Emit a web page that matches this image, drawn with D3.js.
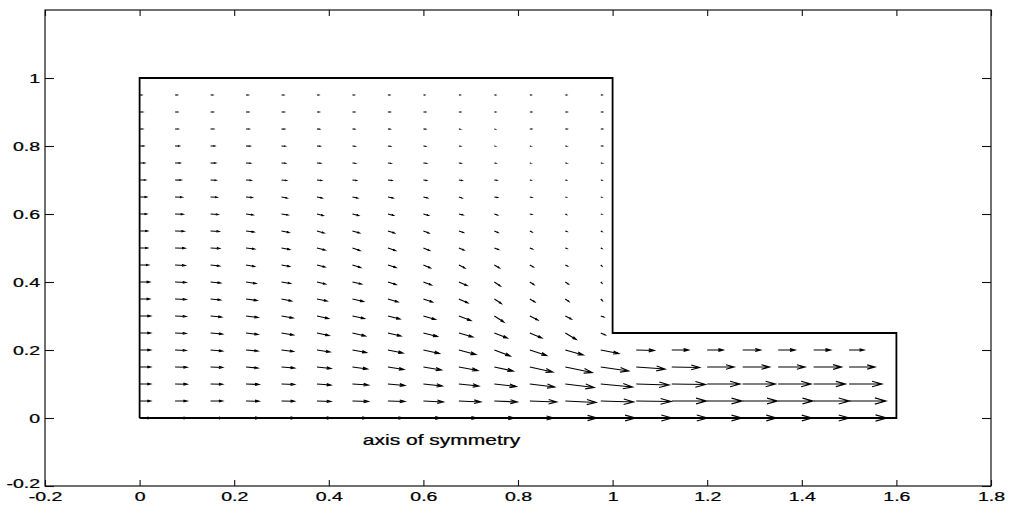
<!DOCTYPE html>
<html>
<head>
<meta charset="utf-8">
<style>
  body { margin: 0; background: #fff; }
  svg { display: block; }
  text { font-family: "Liberation Sans", Arial, Helvetica, sans-serif; fill: #000; stroke: #000; stroke-width: 0.25; }
</style>
</head>
<body>
<svg id="chart" width="1014" height="505"></svg>
<script src="https://cdnjs.cloudflare.com/ajax/libs/d3/7.8.5/d3.min.js"></script>
<script>
// grid of the quiver plot (columns in x, rows in y)
const xGrid = [0, 0.075, 0.15, 0.225, 0.3, 0.375, 0.45, 0.525, 0.6, 0.675, 0.75,
               0.825, 0.9, 0.975, 1.05, 1.125, 1.2, 1.275, 1.35, 1.425, 1.5];
const yGrid = [0, 0.05, 0.1, 0.15, 0.2, 0.25, 0.3, 0.35, 0.4, 0.45,
               0.5, 0.55, 0.6, 0.65, 0.7, 0.75, 0.8, 0.85, 0.9, 0.95];

// velocity components, one row per yGrid value (bottom row first)
const U = [
  [11, 12, 12, 13, 13, 14, 14, 15, 17, 18, 20, 24, 32, 35, 36, 36, 35, 34, 34, 36, 38],
  [11, 12, 12, 13, 13, 14, 16, 17, 20, 22, 23, 27, 31, 33, 35, 35, 35, 35, 35, 36, 37],
  [11, 12, 12, 13, 13, 14, 16, 17, 19, 20, 22, 25, 29, 32, 33, 34, 33, 33, 33, 32, 33],
  [11, 12, 12, 12, 13, 14, 15, 16, 18, 19, 19, 23, 27, 28, 29, 28, 27, 27, 27, 28, 26],
  [11, 11, 12, 12, 12, 13, 14, 15, 16, 17, 16, 17, 18, 18, 18, 17, 16, 18, 17, 17, 15],
  [11, 11, 12, 12, 12, 12, 13, 13, 14, 14, 13, 12, 11, 4.5],
  [11, 11, 11, 12, 11.5, 11.5, 12, 12, 12, 12, 9.5, 8, 6, 3],
  [10, 11, 10, 11, 10, 10, 11, 10, 9, 9, 7, 5, 3.5, 1.5],
  [10, 11, 10, 10, 9, 8.5, 9, 8, 8, 8, 6, 4, 3, 1],
  [9, 10, 9, 8.5, 8, 8, 8, 8, 7, 6, 5, 3.5, 2, 1],
  [8, 10, 9, 8.5, 8, 8, 7.5, 7.5, 6, 5, 4, 2.5, 1.5, 1],
  [8, 9, 8.5, 8, 7.5, 7, 7, 6.5, 5.5, 4.5, 3.5, 2, 1.5, 1],
  [7, 8, 7.5, 7, 6.5, 6, 6, 5.5, 5, 4, 3, 2, 1, 1],
  [7, 7, 6.5, 6, 5.5, 5, 5, 5, 4, 3, 3, 2, 1, 1],
  [6, 6, 5.5, 5, 5, 4.5, 4, 4, 3, 3, 2.5, 1, 1, 1],
  [5, 5, 5, 4.5, 4, 3.5, 3, 3, 3, 2, 1.5, 1, 1.5, 1.5],
  [4, 4, 4, 4, 3.5, 3, 2.5, 2.5, 2, 1.5, 1, 1, 1.5, 1.5],
  [3, 3, 3, 3, 3, 2.5, 2, 2, 2, 1.5, 1, 1.5, 1.5, 1.5],
  [3, 2.5, 2.5, 2.5, 2.5, 2, 2, 2, 2, 1.5, 1, 1.5, 1.5, 1.5],
  [2, 2, 2, 2, 2, 1.5, 1.5, 1.5, 1, 1, 1, 1, 1, 1]
];
const V = [
  [0, 0, 0, 0, 0, 0, 0, 0, 0, 0, 0, 0, 0, 0, 0, 0, 0, 0, 0, 0, 0],
  [0, 0, 0, -0.4, -0.4, -0.7, -0.7, -0.7, -1.4, -1.4, -1.4, -1.4, -2.1, -1.4, -0.7, 0, 0, 0, 0, 0, 0],
  [0, -0.3, -0.4, -0.7, -0.7, -1.4, -1.4, -2.1, -2.8, -2.8, -3.5, -4.2, -4.9, -4.2, -1.4, -0.7, 0, 0, 0, 0, 0],
  [0, -0.4, -0.7, -1.4, -1.4, -2.1, -2.8, -3.5, -4.2, -4.9, -5.6, -7, -7.7, -5.6, -2.8, -0.7, 0, 0, 0, 0, 0],
  [0, -0.7, -1.4, -1.4, -2.1, -2.8, -3.5, -4.2, -4.9, -6.3, -8.4, -7.7, -7, -4.9, -0.7, 0, 0, 0, 0, 0, 0],
  [0, -0.7, -1.4, -2.1, -2.8, -3.5, -4.2, -4.2, -4.9, -5.6, -7, -7, -9.1, -2.8],
  [0, -0.7, -1.4, -2.1, -2.8, -3.5, -3.5, -4.2, -4.9, -6.3, -8.4, -5.6, -4.2, -1.4],
  [0, -0.7, -1.4, -2.1, -2.8, -2.8, -3.5, -4.2, -4.2, -5.6, -6.3, -4.2, -3.5, -2.1],
  [0, -0.7, -1.4, -2.1, -2.1, -2.8, -2.8, -3.5, -4.2, -4.9, -5.6, -3.5, -2.8, -1.4],
  [0, -0.7, -1.4, -2.1, -2.1, -2.8, -3.5, -3.5, -4.2, -4.2, -4.2, -2.8, -1.4, -1.4],
  [0, -0.4, -0.7, -1.4, -2.1, -2.8, -3.5, -3.5, -3.5, -2.8, -2.1, -1.4, -0.7, -0.7],
  [0, -0.4, -0.7, -1.4, -2.1, -2.8, -2.8, -2.8, -2.8, -2.1, -2.1, -1.4, -0.7, -0.7],
  [0, -0.3, -0.7, -1.4, -1.4, -2.1, -2.1, -2.1, -2.1, -1.4, -1.4, -0.7, -0.7, -0.4],
  [0, -0.3, -0.4, -0.7, -1.4, -1.4, -1.4, -1.4, -1.4, -1.4, -0.7, -0.7, -0.4, -0.4],
  [0, -0.1, -0.3, -0.4, -0.7, -0.7, -0.7, -0.7, -0.7, -0.7, -0.4, -0.3, -0.3, -0.3],
  [0, 0, -0.1, -0.3, -0.4, -0.4, -0.4, -0.4, -0.4, -0.4, -0.3, -0.1, -0.1, -0.1],
  [0, 0, 0, -0.1, -0.3, -0.3, -0.3, -0.3, -0.3, -0.3, -0.1, -0.1, -0.1, 0],
  [0, 0, 0, 0, -0.1, -0.1, -0.1, -0.1, -0.1, -0.1, -0.1, 0, 0, 0],
  [0, 0, 0, 0, 0, 0, 0, 0, 0, 0, 0, 0, 0, 0],
  [0, 0, 0, 0, 0, 0, 0, 0, 0, 0, 0, 0, 0, 0]
];

// outline of the flow domain
const boundary = [[0, 0], [0, 1], [1, 1], [1, 0.25], [1.6, 0.25], [1.6, 0], [0, 0]];

const xTicks = [-0.2, 0, 0.2, 0.4, 0.6, 0.8, 1, 1.2, 1.4, 1.6, 1.8];
const yTicks = [-0.2, 0, 0.2, 0.4, 0.6, 0.8, 1];
const noteText = "axis of symmetry";
const notePos = [0.472, -0.08];

const plotLeft = 45, plotRight = 991, plotTop = 10, plotBottom = 486;
const arrowScale = 0.0021;   // quiver scale, data units per velocity unit
const stretch = 1.5;         // labels are drawn wide in the original

const svg = d3.select("#chart");

const x = d3.scaleLinear().domain([-0.2, 1.8]).range([plotLeft, plotRight]);
const y = d3.scaleLinear().domain([-0.2, 1.2]).range([plotBottom, plotTop]);

const fmt = d => String(+d.toFixed(1));

// axes with inward ticks, MATLAB style
const gx = svg.append("g")
    .attr("transform", `translate(0,${plotBottom})`)
    .call(d3.axisBottom(x).tickValues(xTicks).tickSizeInner(-6).tickSizeOuter(0).tickFormat(fmt));
const gxTop = svg.append("g")
    .attr("transform", `translate(0,${plotTop})`)
    .call(d3.axisTop(x).tickValues(xTicks).tickSizeInner(-6).tickSizeOuter(0).tickFormat(""));
const gy = svg.append("g")
    .attr("transform", `translate(${plotLeft},0)`)
    .call(d3.axisLeft(y).tickValues(yTicks).tickSizeInner(-9).tickSizeOuter(0).tickFormat(fmt));
const gyRight = svg.append("g")
    .attr("transform", `translate(${plotRight},0)`)
    .call(d3.axisRight(y).tickValues(yTicks).tickSizeInner(-9).tickSizeOuter(0).tickFormat(""));

[gx, gxTop, gy, gyRight].forEach(g => {
  g.select(".domain").remove();
  g.attr("font-size", 13).attr("font-family", null);
  g.selectAll(".tick line").attr("stroke", "#111").attr("stroke-width", 1.1);
});

gx.selectAll(".tick text")
    .attr("y", 15).attr("dy", null)
    .attr("transform", `scale(${stretch},1)`);
gy.selectAll(".tick text")
    .attr("x", -5 / stretch).attr("dy", "0.36em")
    .attr("transform", `scale(${stretch},1)`);
// the lowest y label sits just above the first x label, as in the original
gy.selectAll(".tick text").filter(d => d === -0.2).attr("dy", "0.1em");

svg.append("rect")
    .attr("x", plotLeft).attr("y", plotTop)
    .attr("width", plotRight - plotLeft).attr("height", plotBottom - plotTop)
    .attr("fill", "none").attr("stroke", "#111").attr("stroke-width", 1.2);

// domain outline
svg.append("path")
    .attr("d", d3.line().x(d => x(d[0])).y(d => y(d[1]))(boundary))
    .attr("fill", "none").attr("stroke", "#000").attr("stroke-width", 1.8);

// quiver arrows
const arrows = [];
U.forEach((row, j) => {
  row.forEach((u, i) => {
    arrows.push({x0: xGrid[i], y0: yGrid[j], u: u, v: V[j][i]});
  });
});

function arrowPath(d) {
  const x1 = x(d.x0), y1 = y(d.y0);
  const x2 = x(d.x0 + d.u * arrowScale), y2 = y(d.y0 + d.v * arrowScale);
  const dx = x2 - x1, dy = y2 - y1;
  const len = Math.hypot(dx, dy) || 1e-6;
  const ux = dx / len, uy = dy / len;
  const hl = 0.3 * len, hw = 0.28 * hl;
  const bx = x2 - hl * ux, by = y2 - hl * uy;
  return `M${x1},${y1}L${x2},${y2}` +
         `M${bx - hw * uy},${by + hw * ux}L${x2},${y2}L${bx + hw * uy},${by - hw * ux}`;
}

svg.append("g")
  .selectAll("path")
  .data(arrows)
  .join("path")
    .attr("d", arrowPath)
    .attr("fill", "none")
    .attr("stroke", "#000")
    .attr("stroke-width", 1.15);

svg.append("text")
    .attr("transform", `translate(${x(notePos[0])},${y(notePos[1])}) scale(1.5,1)`)
    .attr("font-size", 14)
    .text(noteText);
</script>
</body>
</html>
